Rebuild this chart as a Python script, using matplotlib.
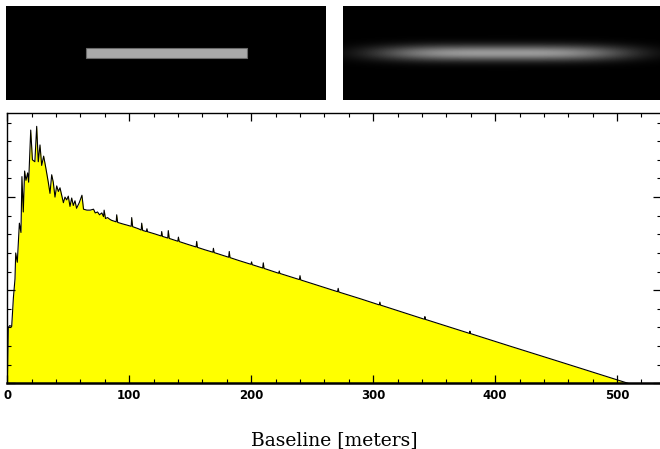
import numpy as np
import matplotlib
matplotlib.use("Agg")
import matplotlib.pyplot as plt
from matplotlib.patches import Rectangle

# ---- data ----
baseline_m = [0, 0.8, 2.0, 3.6, 5.0, 6.3, 6.9, 8.2, 9.9, 11.2, 12.0, 13.1, 14.2, 15.3,
              16.7, 17.5, 19.2, 20.6, 22.6, 24.1, 25.4, 26.8, 28.2, 29.8, 31.5, 33.6,
              35.0, 36.4, 37.7, 39.1, 40.5, 41.9, 43.2, 44.6, 46.0, 47.3, 48.7, 50.0,
              51.4, 52.8, 54.1, 55.5, 56.8, 59.0, 61.2, 62.5, 65.3, 68.0, 70.7, 72.1,
              74.0, 75.6, 77.5, 78.9, 79.4, 80.5, 82.2, 84.2, 85.6,
              89.3, 89.7, 90.5, 95.1, 97.9, 101.6, 102.0, 102.8, 107.5,
              109.8, 110.2, 111.0, 114.0, 114.5, 115.0, 117.0, 121.1,
              126.2, 126.6, 127.2, 131.6, 132.0, 132.8, 139.8, 140.3, 141.0, 148.0,
              154.8, 155.3, 155.9, 162.0, 168.6, 169.0, 169.6, 181.5, 182.0, 182.6,
              190.0, 199.8, 200.3, 200.8, 209.4, 209.9, 210.5, 222.5, 223.0, 223.5,
              239.5, 240.0, 240.6, 255.0, 270.8, 271.3, 271.9, 290.0, 305.0, 305.5,
              306.0, 342.0, 342.4, 342.9, 379.0, 379.3, 379.8, 412.0, 450.0, 480.0, 509.0]
count = [0, 3.0, 3.1, 3.05, 4.6, 5.6, 7.0, 6.5, 8.6, 8.1, 11.1, 9.2, 11.4, 10.9,
         11.3, 10.8, 13.6, 12.0, 11.9, 13.8, 11.9, 12.8, 11.7, 12.2, 11.6, 10.8,
         10.2, 11.2, 10.8, 10.0, 10.6, 10.3, 10.5, 10.1, 9.7, 10.0, 9.85, 10.05,
         9.5, 9.95, 9.55, 9.8, 9.4, 9.7, 10.1, 9.35, 9.3, 9.3, 9.35, 9.15,
         9.2, 9.05, 9.15, 8.95, 9.3, 8.85, 8.9, 8.8, 8.75,
         8.67, 9.05, 8.64, 8.55, 8.50, 8.43, 8.9, 8.41, 8.30,
         8.23, 8.6, 8.21, 8.15, 8.3, 8.14, 8.10, 8.02,
         7.91, 8.15, 7.89, 7.80, 8.2, 7.78, 7.63, 7.85, 7.61, 7.46,
         7.32, 7.62, 7.30, 7.17, 7.04, 7.25, 7.02, 6.77, 7.08, 6.75,
         6.59, 6.39, 6.52, 6.37, 6.19, 6.47, 6.17, 5.91, 6.03, 5.90,
         5.57, 5.78, 5.55, 5.25, 4.92, 5.10, 4.90, 4.53, 4.21, 4.36,
         4.20, 3.44, 3.58, 3.43, 2.68, 2.80, 2.67, 2.00, 1.22, 0.60, 0.0]

x_major_ticks = [0, 100, 200, 300, 400, 500]
x_tick_labels = ["0", "100", "200", "300", "400", "500"]
x_label = "Baseline [meters]"

# aperture bar (left panel, pixel coords in panel) and PSF size (right panel)
aperture_box = (80, 42, 161, 10)   # x, y, width, height (panel pixels)
psf_center = (160, 47)
psf_scale = (125, 7.8)

W, H = 660, 449
fig = plt.figure(figsize=(W / 100, H / 100), dpi=100)
fig.patch.set_facecolor("white")

def frac(x0, y0, x1, y1):
    return [x0 / W, 1 - y1 / H, (x1 - x0) / W, (y1 - y0) / H]

# ---- left panel: aperture ----
ax1 = fig.add_axes(frac(6, 6, 326, 100))
ax1.set_facecolor("black")
ax1.set_xlim(0, 320)
ax1.set_ylim(94, 0)
ax1.add_patch(Rectangle(aperture_box[:2], aperture_box[2], aperture_box[3],
                        facecolor="#aaaaaa", edgecolor="#6a6a6a", lw=0.8))
ax1.set_xticks([]); ax1.set_yticks([])
for s in ax1.spines.values():
    s.set_visible(False)

# ---- right panel: blurred beam ----
ax2 = fig.add_axes(frac(343, 6, 661, 100))
pw, ph = 318, 94
xx, yy = np.meshgrid(np.arange(pw) + 0.5, np.arange(ph) + 0.5)
img = 0.6 * np.exp(-(np.abs(xx - psf_center[0]) / psf_scale[0]) ** 3.5) \
    * np.exp(-((yy - psf_center[1]) / psf_scale[1]) ** 2)
ax2.imshow(img, cmap="gray", vmin=0, vmax=1, extent=(0, pw, ph, 0),
           interpolation="bilinear", aspect="auto")
ax2.set_xticks([]); ax2.set_yticks([])
for s in ax2.spines.values():
    s.set_visible(False)

# ---- main histogram ----
ax = fig.add_axes(frac(7.3, 113.3, 661, 383.3))
ax.fill_between(baseline_m, count, 0, color="#ffff00", lw=0)
ax.plot(baseline_m, count, color="black", lw=0.8)
ax.set_xlim(0, 536)
ax.set_ylim(0, 14.5)
ax.set_xticks(x_major_ticks)
ax.set_xticks(np.arange(0, 536, 20), minor=True)
ax.set_xticklabels(x_tick_labels, family=["Liberation Sans Narrow", "DejaVu Sans"],
                   fontsize=8.5, fontweight="bold")
ax.set_yticks([0, 5, 10])
ax.set_yticks(np.arange(0, 15, 1), minor=True)
ax.set_yticklabels([])
ax.tick_params(which="both", direction="in", top=True, right=True, color="black")
ax.tick_params(which="major", length=6, width=0.9, pad=4)
ax.tick_params(which="minor", length=3, width=0.8)
for side in ["left", "top", "right"]:
    ax.spines[side].set_linewidth(1.0)
ax.spines["bottom"].set_linewidth(1.8)

fig.text(0.506, 4 / H, x_label, ha="center", va="baseline",
         family="DejaVu Serif", fontsize=13.5)

fig.savefig("out.png", dpi=100)
